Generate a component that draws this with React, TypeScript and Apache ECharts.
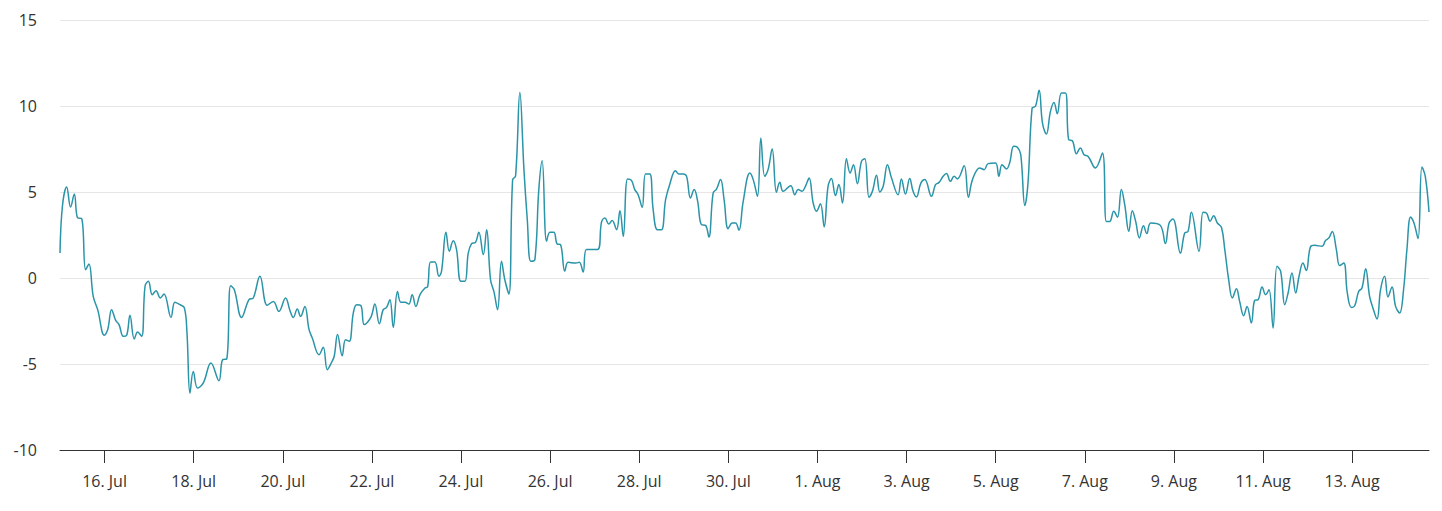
import React, { useEffect, useRef } from 'react';
import * as echarts from 'echarts';

// hours since 15 Jul 00:00 and the plotted value at that time
const hours = [
  0, 1.3, 3.6, 5.7, 7.7, 9.5, 11.7, 13.8, 15.6, 17.9, 20.3, 23.9, 25.7, 27.8, 30.0, 31.8, 34.1, 35.9, 37.7, 40.0,
  41.8, 44.0, 45.8, 47.6, 49.7, 51.7, 54.0, 56.0, 59.8, 61.9, 64.6, 67.0, 68.4, 70.0, 71.8, 74.1, 77.2, 81.3, 85.6, 87.6,
  89.8, 91.9, 93.9, 97.8, 101.8, 104.1, 107.7, 111.6, 114.9, 117.9, 121.5, 123.9, 125.7, 127.8, 129.6, 131.9, 134.1, 135.9, 139.5, 141.8,
  144.0, 146.3, 147.7, 149.5, 152.0, 153.8, 155.8, 158.0, 159.8, 162.1, 163.9, 167.5, 169.6, 172.0, 174.1, 175.9, 177.7, 179.5, 181.8, 183.6,
  185.8, 187.9, 189.7, 191.7, 193.9, 196.6, 198.0, 199.6, 201.9, 204.1, 205.5, 207.9, 209.7, 211.8, 213.6, 215.9, 218.1, 219.9, 221.7, 223.8,
  225.6, 228.0, 229.8, 231.9, 233.7, 235.7, 237.8, 239.6, 241.8, 243.8, 245.4, 247.7, 249.9, 251.7, 253.6, 255.8, 257.9, 259.7, 262.1, 263.9,
  266.0, 267.8, 269.6, 271.9, 273.7, 277.9, 279.7, 281.8, 283.6, 289.5, 291.7, 293.5, 295.6, 297.4, 299.8, 301.6, 303.4, 305.7, 307.8, 309.6,
  311.4, 313.6, 315.4, 317.7, 319.5, 321.8, 324.0, 326.2, 328.5, 331.5, 333.3, 335.7, 337.5, 339.6, 341.6, 343.4, 345.5, 347.7, 349.5, 351.8,
  353.6, 355.8, 357.7, 359.9, 362.1, 363.9, 365.7, 368.0, 371.6, 373.4, 375.7, 377.5, 379.6, 381.4, 383.6, 385.9, 387.7, 389.5, 393.6, 395.8,
  397.6, 399.7, 401.5, 403.5, 405.7, 407.5, 409.6, 411.6, 413.7, 415.5, 417.7, 419.5, 421.5, 423.6, 425.6, 427.4, 429.5, 431.7, 433.5, 435.8,
  437.6, 439.8, 441.6, 443.4, 445.7, 447.9, 451.4, 453.2, 455.4, 457.7, 459.5, 461.3, 463.7, 465.8, 469.4, 471.6, 473.5, 475.7, 477.5, 479.6,
  481.6, 483.4, 487.0, 489.3, 491.5, 495.4, 497.8, 499.9, 503.9, 505.7, 507.4, 509.8, 511.6, 513.7, 515.7, 517.5, 519.7, 521.4, 523.6, 525.4,
  527.4, 529.2, 531.3, 533.5, 535.4, 537.2, 539.4, 541.6, 543.3, 545.3, 547.5, 549.6, 551.6, 553.8, 557.7, 561.5, 563.6, 565.4, 567.6, 569.6,
  571.7, 573.5, 575.7, 577.6, 579.4, 581.4, 583.6, 585.4, 587.5, 592.7, 595.4, 597.4, 599.5, 603.5, 605.8, 607.6, 609.4, 613.5, 615.7, 617.5,
  619.5, 621.4, 623.4, 625.6, 627.4, 629.5, 631.5, 633.7, 635.4, 637.6, 639.4, 641.7, 643.5, 645.3, 647.5, 649.4, 651.2, 653.4, 655.5, 657.5,
  659.7, 661.5, 663.6, 665.6, 667.4, 669.5, 671.3, 673.5, 675.8, 679.8, 681.6, 683.5, 685.3, 687.5, 689.3, 691.5, 693.4, 695.6, 697.4, 699.5,
  701.3, 703.3, 705.4, 707.2, 709.4, 711.3, 713.5, 715.3, 717.5, 719.4, 721.6, 723.7, 725.5, 727.5, 729.3, 731.5, 733.6, 735.4, 737.4,
];

const values = [
  1.45, 4.17, 5.29, 4.13, 4.88, 3.49, 3.45, 0.48, 0.81, -1.07, -1.84, -3.33, -3.0, -1.84, -2.46, -2.71, -3.39, -3.33, -2.17, -3.55,
  -3.14, -3.39, -0.48, -0.19, -0.97, -0.74, -1.16, -0.93, -2.29, -1.41, -1.55, -1.74, -3.2, -6.69, -5.43, -6.4, -6.1, -4.94, -5.97, -4.75,
  -4.71, -0.45, -0.68, -2.29, -1.26, -1.16, 0.1, -1.59, -1.36, -1.94, -1.16, -1.9, -2.29, -1.8, -2.23, -1.65, -2.97, -3.49, -4.46, -4.03,
  -5.33, -4.9, -4.55, -3.29, -4.52, -3.59, -3.68, -2.03, -1.55, -1.61, -2.71, -2.27, -1.51, -2.66, -1.84, -1.71, -1.26, -2.87, -0.78, -1.41,
  -1.41, -1.51, -0.97, -1.65, -0.97, -0.58, -0.52, 0.93, 0.93, 0.1, 0.39, 2.66, 1.55, 2.17, 1.65, -0.19, -0.19, 1.45, 2.0, 2.07,
  2.66, 1.36, 2.81, -0.1, -0.78, -1.84, 0.97, -0.1, -0.93, 5.72, 5.93, 10.78, 6.3, 3.39, 0.97, 1.07, 5.14, 6.82, 2.13, 2.66,
  2.66, 1.98, 1.94, 0.39, 0.91, 0.87, 0.91, 0.35, 1.65, 1.65, 3.26, 3.49, 3.14, 3.35, 2.81, 3.91, 2.42, 5.76, 5.68, 5.14,
  4.84, 4.11, 6.05, 6.05, 3.97, 2.81, 2.81, 4.55, 5.47, 6.24, 6.05, 6.05, 5.91, 4.65, 5.14, 4.5, 3.1, 3.06, 2.38, 4.94,
  5.17, 5.72, 4.55, 2.87, 3.2, 3.2, 2.77, 4.46, 6.1, 5.72, 4.75, 8.14, 5.91, 6.3, 7.5, 4.98, 5.56, 5.04, 5.37, 4.84,
  5.14, 5.04, 5.33, 5.81, 4.36, 3.88, 4.32, 2.97, 5.33, 5.78, 4.79, 5.43, 4.36, 6.94, 6.1, 6.59, 5.48, 6.78, 6.94, 4.69,
  5.04, 5.97, 5.0, 5.33, 6.59, 5.81, 4.84, 5.76, 4.88, 5.78, 5.04, 4.71, 5.52, 5.72, 4.75, 5.43, 5.56, 5.91, 6.07, 5.62,
  5.91, 5.76, 6.53, 4.69, 5.72, 6.4, 6.3, 6.65, 6.69, 5.91, 6.59, 6.34, 6.72, 7.66, 7.6, 7.17, 4.21, 5.52, 9.88, 9.98,
  10.91, 9.01, 8.37, 9.69, 10.21, 9.55, 10.76, 10.76, 8.04, 7.98, 7.23, 7.56, 7.17, 7.07, 6.4, 7.27, 3.29, 3.29, 3.88, 3.53,
  5.14, 4.26, 2.71, 3.91, 3.29, 2.33, 3.04, 2.58, 3.2, 3.06, 2.0, 3.2, 3.43, 1.45, 2.62, 2.71, 3.82, 1.55, 3.82, 3.78,
  3.3, 3.62, 3.2, 2.95, 1.65, -0.1, -1.16, -0.62, -1.36, -2.19, -1.65, -2.62, -1.3, -1.26, -0.52, -0.97, -0.68, -2.91, 0.68, 0.39,
  -1.55, -0.87, 0.29, -0.87, 0.1, 0.87, 0.43, 1.8, 1.9, 1.84, 2.17, 2.33, 2.71, 1.65, 0.72, 0.87, -0.87, -1.71, -1.61, -0.78,
  -0.58, 0.54, -1.07, -1.74, -2.38, -0.68, 0.1, -1.1, -0.52, -1.65, -2.03, -0.68, 1.65, 3.55, 3.2, 2.29, 6.45, 5.91, 3.84,
];

// tick positions in hours since 15 Jul 00:00 and their labels
const tickHours = [24, 72, 120, 168, 216, 264, 312, 360, 408, 456, 504, 552, 600, 648, 696];
const tickLabels = [
  '16. Jul', '18. Jul', '20. Jul', '22. Jul', '24. Jul', '26. Jul', '28. Jul', '30. Jul',
  '1. Aug', '3. Aug', '5. Aug', '7. Aug', '9. Aug', '11. Aug', '13. Aug',
];

const LineChart: React.FC = () => {
  const chartRef = useRef<HTMLDivElement>(null);

  useEffect(() => {
    document.body.style.margin = '0';
    if (!chartRef.current) return;
    const chart = echarts.init(chartRef.current, null, { renderer: 'svg' });

    const points = hours.map((h, i) => [h, values[i]]);

    chart.setOption({
      animation: false,
      textStyle: { fontFamily: 'Open Sans' },
      grid: { left: 60, right: 13, top: 20, bottom: 61 },
      xAxis: {
        type: 'value',
        min: 0,
        max: hours[hours.length - 1],
        axisLine: { onZero: false, lineStyle: { color: '#333', width: 1 } },
        axisTick: { customValues: tickHours, length: 13, lineStyle: { color: '#333' } },
        axisLabel: {
          customValues: tickHours,
          color: '#333',
          fontSize: 16,
          margin: 23,
          formatter: (val: number) => {
            const i = tickHours.indexOf(Math.round(val));
            return i >= 0 ? tickLabels[i] : '';
          },
        },
        splitLine: { show: false },
      },
      yAxis: {
        type: 'value',
        min: -10,
        max: 15,
        interval: 5,
        axisLine: { show: false },
        axisTick: { show: false },
        axisLabel: { color: '#333', fontSize: 16, margin: 23 },
        splitLine: { lineStyle: { color: '#e6e6e6', width: 1 } },
      },
      series: [
        {
          type: 'line',
          data: points,
          smooth: 0.4,
          symbol: 'none',
          lineStyle: { color: '#2a94a8', width: 1.5 },
        },
      ],
    });

    return () => {
      chart.dispose();
    };
  }, []);

  return <div ref={chartRef} style={{ width: '1442px', height: '511px' }}></div>;
};

export default function App() {
  return <LineChart />;
}
